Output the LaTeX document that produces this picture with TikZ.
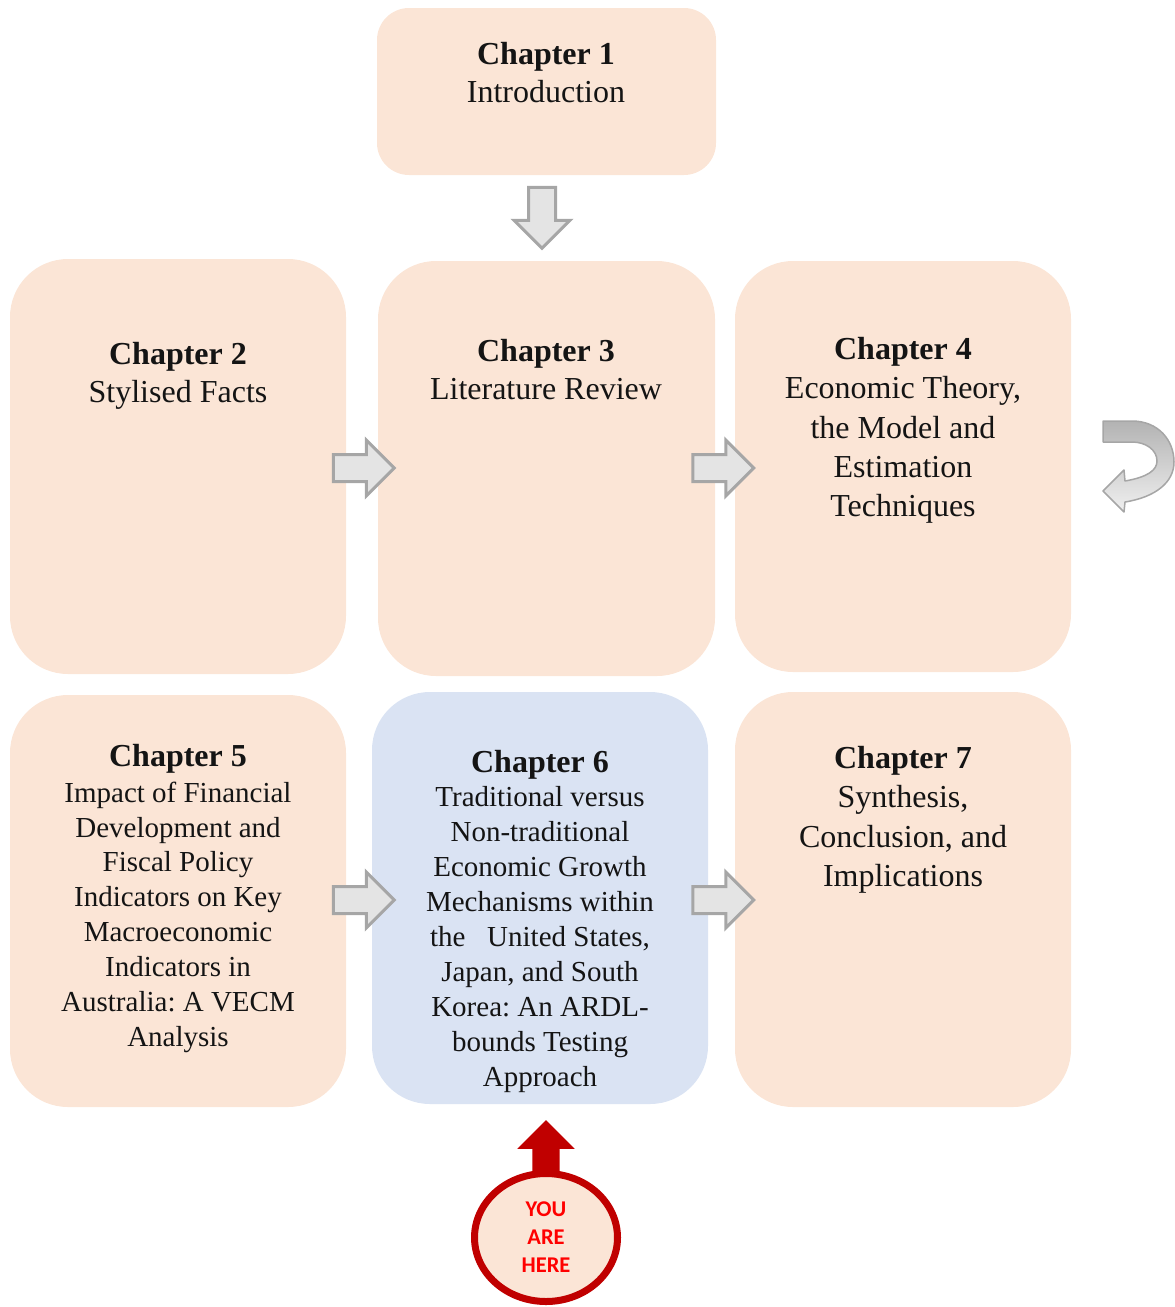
\documentclass[tikz,border=0pt]{standalone}
\usepackage{fontspec}
\setmainfont{Liberation Serif}
\newfontfamily\calloutfont{Carlito}
\usetikzlibrary{shapes.arrows,shapes.geometric}
\definecolor{peach}{HTML}{FBE5D6}
\definecolor{paleblue}{HTML}{DAE3F3}
\definecolor{arrowfill}{HTML}{E4E4E4}
\definecolor{arrowline}{HTML}{A6A6A6}
\definecolor{darkred}{HTML}{C00000}
\definecolor{brightred}{HTML}{FF0000}
\definecolor{ink}{HTML}{141414}
\frenchspacing
\begin{document}
\begin{tikzpicture}[x=1pt,y=-1pt,
  chapbox/.style={rectangle, rounded corners=58pt, fill=peach, inner sep=0pt},
  titletext/.style={anchor=north, inner sep=0pt, align=center, text=ink,
    font=\fontsize{32}{39}\selectfont\bfseries},
  bodytext/.style={anchor=north, inner sep=0pt, align=center, text=ink,
    font=\fontsize{32}{39.3}\selectfont},
  smalltext/.style={anchor=north, inner sep=0pt, align=center, text=ink,
    font=\fontsize{29}{34.9}\selectfont},
  flowarrow/.style={single arrow, draw=arrowline, fill=arrowfill, line width=3pt,
    minimum height=61pt, minimum width=53pt, inner sep=12pt,
    single arrow head extend=14.5pt},
]
\useasboundingbox (0,0) rectangle (1175,1307);

% chapter boxes
\node[chapbox, rounded corners=32pt, minimum width=339pt, minimum height=167pt] (ch1) at (546.5,91.5) {};
\node[chapbox, minimum width=336pt, minimum height=415pt] (ch2) at (178,466.5) {};
\node[chapbox, minimum width=337pt, minimum height=415pt] (ch3) at (546.5,468.5) {};
\node[chapbox, minimum width=336pt, minimum height=411pt] (ch4) at (903,466.5) {};
\node[chapbox, minimum width=336pt, minimum height=412pt] (ch5) at (178,901) {};
\node[chapbox, fill=paleblue, minimum width=336pt, minimum height=412pt] (ch6) at (540,898) {};
\node[chapbox, minimum width=336pt, minimum height=415pt] (ch7) at (903,899.5) {};

% chapter titles and descriptions
\node[titletext] (t1) at (546,42.5) {Chapter 1};
\node[bodytext]  (b1) at (546,80.5) {Introduction};
\node[titletext] (t2) at (178,342) {Chapter 2};
\node[bodytext]  (b2) at (178,380.5) {Stylised Facts};
\node[titletext] (t3) at (546,339.5) {Chapter 3};
\node[bodytext]  (b3) at (546,378.5) {Literature Review};
\node[titletext] (t4) at (903,337.5) {Chapter 4};
\node[bodytext]  (b4) at (903,376.5) {Economic Theory,\\the Model and\\Estimation\\Techniques};
\node[titletext] (t5) at (178,744) {Chapter 5};
\node[smalltext] (b5) at (178,781.5) {Impact of Financial\\Development and\\Fiscal Policy\\Indicators on Key\\Macroeconomic\\Indicators in\\Australia: A VECM\\Analysis};
\node[titletext] (t6) at (540,750) {Chapter 6};
\node[smalltext] (b6) at (540,786.5) {Traditional versus\\Non-traditional\\Economic Growth\\Mechanisms within\\the\ \ \ United States,\\Japan, and South\\Korea: An ARDL-\\bounds Testing\\Approach};
\node[titletext] (t7) at (903,746.5) {Chapter 7};
\node[bodytext]  (b7) at (903,785.5) {Synthesis,\\Conclusion, and\\Implications};

% block arrows between chapters
\node[flowarrow, shape border rotate=270] (a13) at (542,211) {};
\node[flowarrow] (a23) at (357,468) {};
\node[flowarrow] (a34) at (716.5,468) {};
\node[flowarrow] (a56) at (357,900) {};
\node[flowarrow] (a67) at (716.5,900) {};

% curved return arrow on the right
\draw[draw=arrowline, line width=1.5pt, line join=round, top color=gray!60, bottom color=gray!12]
  (1103,421) -- (1132,421)
  .. controls (1158,421) and (1174,440) .. (1174,462)
  .. controls (1174,482) and (1156,497) .. (1125,502)
  -- (1124,512) -- (1103,491) -- (1124,470) -- (1125,481)
  .. controls (1148,477) and (1157,470) .. (1157,461)
  .. controls (1157,450) and (1146,442) .. (1132,442)
  -- (1103,442) -- cycle;

% position marker
\node[single arrow, fill=darkred, shape border rotate=90, minimum height=60pt,
  minimum width=57pt, inner sep=13.5pt, single arrow head extend=15pt] (up) at (546,1157) {};
\node[ellipse, draw=darkred, line width=7pt, fill=peach, minimum width=143pt,
  minimum height=128pt, inner sep=0pt] (here) at (546,1237.5) {};
\node[align=center, text=brightred, inner sep=0pt,
  font=\calloutfont\bfseries\fontsize{22.5}{28}\selectfont] (heretext) at (here.center) {YOU\\ARE\\HERE};
\end{tikzpicture}
\end{document}
